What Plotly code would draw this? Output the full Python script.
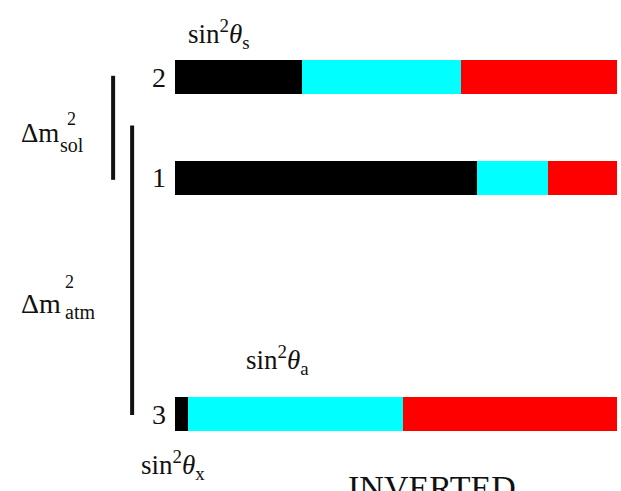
import plotly.graph_objects as go

# Data: mass eigenstates (inverted hierarchy) and flavour content
levels = ["2", "1", "3"]
mass_sq = [3.35, 2.35, 0.0]          # schematic relative m^2 positions
nu_e = [0.287, 0.683, 0.030]          # black
nu_mu = [0.360, 0.162, 0.485]         # cyan
nu_tau = [0.353, 0.155, 0.485]        # red
flavours = ["νe", "νμ", "ντ"]
colors = ["#000000", "#00FFFF", "#FF0000"]

fig = go.Figure()
for name, vals, col in zip(flavours, [nu_e, nu_mu, nu_tau], colors):
    fig.add_trace(go.Bar(
        x=vals, y=mass_sq, orientation="h", name=name,
        marker=dict(color=col, line=dict(width=0)), width=0.34,
        hoverinfo="skip", showlegend=False,
    ))

# splitting indicators
m2, m1, m3 = mass_sq
fig.add_trace(go.Scatter(x=[-0.140, -0.140], y=[m2 + 0.015, m1 - 0.02], mode="lines",
                         line=dict(color="#111111", width=4), showlegend=False, hoverinfo="skip"))
fig.add_trace(go.Scatter(x=[-0.097, -0.097], y=[(m1 + m2) / 2 + 0.02, m3 - 0.01], mode="lines",
                         line=dict(color="#111111", width=4), showlegend=False, hoverinfo="skip"))

FONT = "Liberation Serif"
ann = []
for lab, y in zip(levels, mass_sq):
    ann.append(dict(x=-0.016, y=y, text=lab, xanchor="right", yanchor="middle",
                    font=dict(size=28)))

ann += [
    dict(x=0.024, y=m2 + 0.43, text="sin<sup>2</sup><i>θ</i><sub>s</sub>", xanchor="left", yanchor="middle", font=dict(size=27)),
    dict(x=0.155, y=m3 + 0.54, text="sin<sup>2</sup><i>θ</i><sub>a</sub>", xanchor="left", yanchor="middle", font=dict(size=27)),
    dict(x=-0.082, y=m3 - 0.51, text="sin<sup>2</sup><i>θ</i><sub>x</sub>", xanchor="left", yanchor="middle", font=dict(size=27)),
    dict(x=-0.352, y=2.796, text="Δm", xanchor="left", yanchor="middle", font=dict(size=27)),
    dict(x=-0.250, y=2.94, text="2", xanchor="left", yanchor="middle", font=dict(size=18)),
    dict(x=-0.264, y=2.68, text="sol", xanchor="left", yanchor="middle", font=dict(size=20)),
    dict(x=-0.352, y=1.104, text="Δm", xanchor="left", yanchor="middle", font=dict(size=28)),
    dict(x=-0.254, y=1.313, text="2", xanchor="left", yanchor="middle", font=dict(size=18)),
    dict(x=-0.254, y=1.01, text="atm", xanchor="left", yanchor="middle", font=dict(size=20)),
    dict(x=0.387, y=-0.53, text="INVERTED", xanchor="left", yanchor="top", font=dict(size=34)),
]
for a in ann:
    a.update(xref="x", yref="y", showarrow=False)
    a["font"].update(family=FONT, color="#111111")

fig.update_layout(
    width=621, height=491,
    margin=dict(l=0, r=0, t=0, b=0),
    barmode="stack",
    plot_bgcolor="white", paper_bgcolor="white",
    xaxis=dict(range=[-175 / 442, 446 / 442], visible=False, fixedrange=True),
    yaxis=dict(range=[-0.766, 4.119], visible=False, fixedrange=True),
    annotations=ann,
    showlegend=False,
)

fig.write_html("out.html", config={"displayModeBar": False},
               post_script="document.body.style.margin='0';document.body.style.overflow='hidden';")
